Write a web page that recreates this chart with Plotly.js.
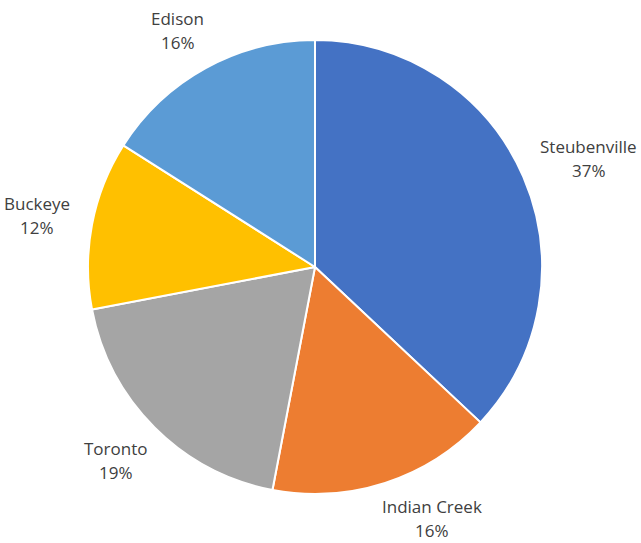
<!DOCTYPE html>
<html>
<head>
<meta charset="utf-8">
<script src="https://cdn.plot.ly/plotly-3.0.1.min.js"></script>
<style>html,body{margin:0;padding:0;background:#fff;}#chart{width:641px;height:543px;}</style>
</head>
<body>
<div id="chart"></div>
<script>
const categories = ["Steubenville", "Indian Creek", "Toronto", "Buckeye", "Edison"];
const values = [37, 16, 19, 12, 16];
const colors = ["#4472C4", "#ED7D31", "#A5A5A5", "#FFC000", "#5B9BD5"];

const W = 641, H = 543;
const cx = 315, cy = 267, R = 227;
const FONT = "Open Sans, Noto Sans, sans-serif";
const FS = 17;
const labelDist = 250;
const halfH = 23;
const lineGap = 12;
const maxY = H - 24;

const ctx = document.createElement("canvas").getContext("2d");
ctx.font = FS + "px 'Open Sans'";

const total = values.reduce((a, b) => a + b, 0);
const annotations = [];
let cum = 0;
values.forEach((v, i) => {
  const mid = (cum + v / 2) / total * 2 * Math.PI; // clockwise from top
  cum += v;
  const pct = Math.round(v / total * 100) + "%";
  const w = Math.max(ctx.measureText(categories[i]).width, ctx.measureText(pct).width);
  const pos = (a) => {
    const ux = Math.sin(a), uy = -Math.cos(a);
    return [cx + labelDist * ux + ux * w / 2, cy + labelDist * uy + uy * halfH];
  };
  let a = mid;
  let p = pos(a);
  let guard = 0;
  while (p[1] > maxY && guard < 400) {
    a += (Math.sin(a) >= 0 ? -1 : 1) * Math.PI / 360;
    p = pos(a);
    guard++;
  }
  guard = 0;
  while (p[1] < 30 && guard < 400) {
    a += (Math.sin(a) >= 0 ? 1 : -1) * Math.PI / 360;
    p = pos(a);
    guard++;
  }
  const common = {xref: "paper", yref: "paper", showarrow: false, xanchor: "center", yanchor: "middle",
                  font: {family: FONT, size: FS, color: "#404040"}};
  annotations.push(Object.assign({}, common, {text: categories[i], x: p[0] / W, y: 1 - (p[1] - lineGap) / H}));
  annotations.push(Object.assign({}, common, {text: pct, x: p[0] / W, y: 1 - (p[1] + lineGap) / H}));
});

const trace = {
  type: "pie",
  labels: categories,
  values: values,
  sort: false,
  direction: "clockwise",
  rotation: 0,
  textinfo: "none",
  textposition: "none",
  hoverinfo: "none",
  marker: {colors: colors, line: {color: "#ffffff", width: 2}},
  domain: {x: [(cx - R) / W, (cx + R) / W], y: [(H - cy - R) / H, (H - cy + R) / H]},
  showlegend: false
};

Plotly.newPlot("chart", [trace], {
  width: W, height: H,
  margin: {l: 0, r: 0, t: 0, b: 0},
  paper_bgcolor: "#ffffff",
  showlegend: false,
  annotations: annotations
}, {displayModeBar: false, staticPlot: true});
</script>
</body>
</html>
